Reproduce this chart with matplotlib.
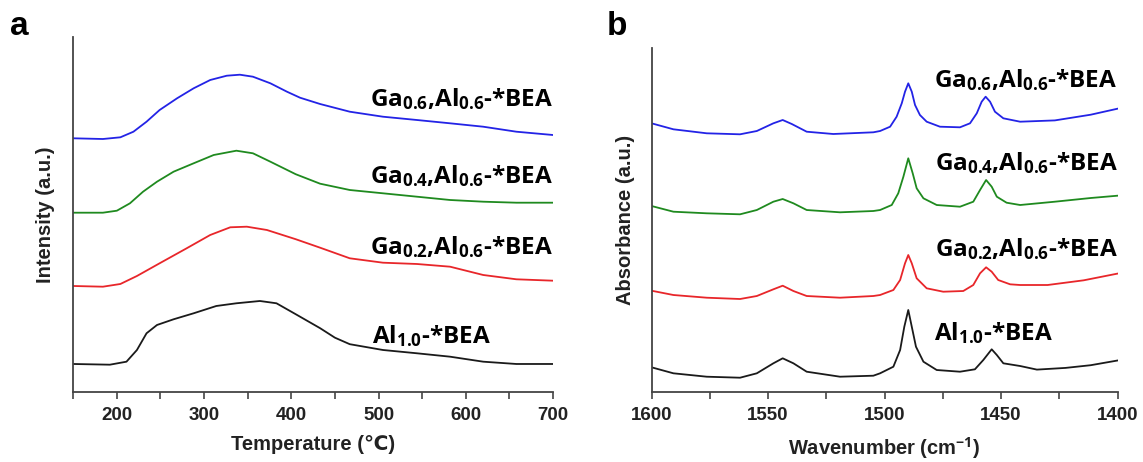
import matplotlib
matplotlib.use('Agg')
import matplotlib.pyplot as plt
from matplotlib.ticker import MultipleLocator

plt.rcParams['font.family'] = ['Liberation Sans', 'DejaVu Sans']
plt.rcParams['mathtext.fontset'] = 'custom'
plt.rcParams['mathtext.rm'] = 'Open Sans:bold'
plt.rcParams['mathtext.default'] = 'rm'

# panel a: TPD curves (stacked, arbitrary units)
temp_al10 = [150, 192, 211, 223, 234, 246, 265, 288, 314, 337, 364, 383, 405, 433, 450, 467, 505, 544, 582, 620,
             658, 700]
int_al10 = [27.7, 27, 30, 41.7, 58.4, 66.7, 72.4, 78.4, 85.7, 88.4, 90.7, 88.4, 77.5, 63.5, 54, 47.5, 41.7, 38.4,
            35, 30, 27.7, 27.7]

temp_ga02 = [150, 184, 204, 223, 249, 280, 307, 330, 349, 372, 405, 433, 467, 505, 544, 582, 620, 658, 700]
int_ga02 = [105.7, 105, 107.7, 115.7, 128.4, 143.4, 156.7, 164.4, 165, 161.7, 152.5, 144, 133.4, 129, 127.7, 125,
            116.7, 112.4, 111]

temp_ga04 = [150, 184, 200, 215, 230, 246, 265, 288, 311, 337, 356, 376, 405, 433, 467, 505, 544, 582, 620, 658, 700]
int_ga04 = [179, 179, 181, 188.4, 200, 210, 220, 228.4, 236.7, 241, 238.4, 230, 217.5, 208, 201.7, 198.4, 195,
            191.7, 190, 189, 189]

temp_ga06 = [150, 184, 204, 219, 234, 249, 269, 288, 307, 326, 341, 356, 376, 395, 410, 433, 467, 505, 544, 582,
             620, 658, 700]
int_ga06 = [253.4, 252.7, 254.4, 260, 270, 281.7, 293.4, 303.4, 311.7, 316, 317, 315, 308.4, 300, 294, 287.7,
            280, 275, 271.7, 268.4, 265, 260, 256.7]

# panel b: pyridine IR spectra (stacked)
wn_al10 = [1600, 1590.6, 1576.3, 1562.0, 1554.8, 1547.7, 1543.7, 1539.1, 1533.4, 1519.1, 1504.8, 1501.9, 1496.2,
           1493.3, 1491.5, 1489.8, 1488.3, 1486.5, 1483.3, 1477.6, 1467.6, 1461.2, 1457.6, 1454.0, 1451.8, 1449.0,
           1441.8, 1434.6, 1422.3, 1411.5, 1400]
abs_al10 = [24.7, 18.7, 15.3, 14.3, 18.7, 28.7, 33.7, 28.7, 20.3, 15.3, 16.3, 18.7, 25.3, 42, 65.3, 82, 65.3,
            45.3, 30.3, 22, 20.3, 22.7, 32, 42.7, 37, 28.7, 26, 22.4, 24.1, 26.8, 31.5]

wn_ga02 = [1600, 1590.6, 1576.3, 1562.0, 1554.8, 1547.7, 1543.7, 1539.1, 1533.4, 1519.1, 1504.8, 1501.9, 1496.2,
           1493.3, 1491.2, 1489.8, 1488.3, 1486.2, 1481.9, 1474.8, 1466.2, 1461.9, 1459.0, 1456.4, 1454.0, 1451.2,
           1446.1, 1441.8, 1430.0, 1414.5, 1400]
abs_ga02 = [101.3, 97, 94.3, 93, 96, 102.7, 106.3, 101, 96, 94.3, 96, 97, 102, 112, 128.7, 137, 128.7, 113.7,
            103.7, 100.3, 101, 107, 118.7, 124.7, 120.3, 112, 107.7, 107, 107, 111.7, 118.4]

wn_ga04 = [1600, 1590.6, 1576.3, 1562.0, 1554.8, 1547.7, 1543.7, 1539.1, 1533.4, 1519.1, 1504.8, 1501.9, 1496.9,
           1494.1, 1491.9, 1489.8, 1487.9, 1486.2, 1483.3, 1477.6, 1467.6, 1461.9, 1459.0, 1456.4, 1454.0, 1451.8,
           1447.6, 1441.8, 1426.9, 1411.5, 1400]
abs_ga04 = [186, 180.3, 178.7, 177.7, 182, 190.3, 193, 188.7, 182, 179.7, 181, 182, 187, 198.7, 215.3, 233.7,
            218.7, 203.7, 193.7, 187, 185.3, 190.3, 202, 212, 205.3, 195.3, 189.3, 187, 190.3, 194, 196.3]

wn_ga06 = [1600, 1590.6, 1576.3, 1562.0, 1554.8, 1547.7, 1543.7, 1539.8, 1533.4, 1522.0, 1504.8, 1501.9, 1497.6,
           1494.8, 1492.6, 1491.2, 1489.8, 1488.3, 1486.9, 1484.8, 1481.9, 1476.2, 1467.6, 1463.3, 1460.4, 1458.3,
           1456.6, 1454.7, 1452.6, 1449.0, 1441.8, 1426.9, 1411.5, 1400]
abs_ga06 = [268.7, 262.7, 258.7, 257.7, 261, 268.7, 272, 268, 260.3, 258, 259.7, 261, 265.3, 275.3, 288.7, 300.3,
            308.7, 300.3, 287, 277, 270.3, 265.3, 264.7, 268.7, 278.7, 290.3, 295.3, 290.3, 280.3, 273.7, 270.3,
            271.6, 277.3, 283.3]

labels = ['Al$_{1.0}$-*BEA', 'Ga$_{0.2}$,Al$_{0.6}$-*BEA', 'Ga$_{0.4}$,Al$_{0.6}$-*BEA', 'Ga$_{0.6}$,Al$_{0.6}$-*BEA']
colors = ['#1a1a1a', '#e8262a', '#1f8a1f', '#2323e6']

fig = plt.figure(figsize=(11.43, 4.62), dpi=100)
ax1 = fig.add_axes([0.0641, 0.1522, 0.4197, 0.7677])
ax2 = fig.add_axes([0.5700, 0.1515, 0.4077, 0.7446])

for x, y, c in zip([temp_al10, temp_ga02, temp_ga04, temp_ga06],
                   [int_al10, int_ga02, int_ga04, int_ga06], colors):
    ax1.plot(x, y, color=c, lw=1.3, solid_joinstyle='round')

for x, y, c in zip([wn_al10, wn_ga02, wn_ga04, wn_ga06],
                   [abs_al10, abs_ga02, abs_ga04, abs_ga06], colors):
    ax2.plot(x, y, color=c, lw=1.3, solid_joinstyle='round')

ax1.set_xlim(150, 700)
ax1.set_ylim(0, 354.7)
ax2.set_xlim(1600, 1400)
ax2.set_ylim(0, 344)

ax1.xaxis.set_major_locator(MultipleLocator(100))
ax1.xaxis.set_minor_locator(MultipleLocator(50))
ax2.xaxis.set_major_locator(MultipleLocator(50))
ax2.xaxis.set_minor_locator(MultipleLocator(25))

spine_col = '#444444'
for ax in (ax1, ax2):
    ax.spines['top'].set_visible(False)
    ax.spines['right'].set_visible(False)
    for s in ('left', 'bottom'):
        ax.spines[s].set_color(spine_col)
        ax.spines[s].set_linewidth(1.3)
    ax.set_yticks([])
    ax.tick_params(axis='x', which='both', direction='out', length=5, width=1.2, color=spine_col,
                   labelsize=13.5, pad=6, labelcolor='#222222')
    for lab in ax.get_xticklabels():
        lab.set_fontweight('bold')

ax1.set_xlabel('Temperature (℃)', fontsize=14.5, fontweight='bold', color='#222222', labelpad=8)
ax1.set_ylabel('Intensity (a.u.)', fontsize=14.5, fontweight='bold', color='#222222', labelpad=13)
ax2.set_xlabel('Wavenumber (cm$^{-1}$)', fontsize=14.5, fontweight='bold', color='#222222', labelpad=8)
ax2.set_ylabel('Absorbance (a.u.)', fontsize=14.5, fontweight='bold', color='#222222', labelpad=12)

lab_font = dict(fontsize=17.5, fontweight='bold', family=['Open Sans', 'DejaVu Sans'],
                ha='right', va='baseline', color='black')
# panel a labels
ax1.text(628.6, 49, labels[0], **lab_font)
ax1.text(700, 137.7, labels[1], **lab_font)
ax1.text(700, 208.4, labels[2], **lab_font)
ax1.text(700, 286, labels[3], **lab_font)
# panel b labels
ax2.text(1427.7, 52, labels[0], **lab_font)
ax2.text(1400, 136, labels[1], **lab_font)
ax2.text(1400, 222, labels[2], **lab_font)
ax2.text(1400, 305, labels[3], **lab_font)

fig.text(0.009, 0.925, 'a', fontsize=24, fontweight='bold')
fig.text(0.531, 0.925, 'b', fontsize=24, fontweight='bold')

fig.savefig('out.png', dpi=100)
